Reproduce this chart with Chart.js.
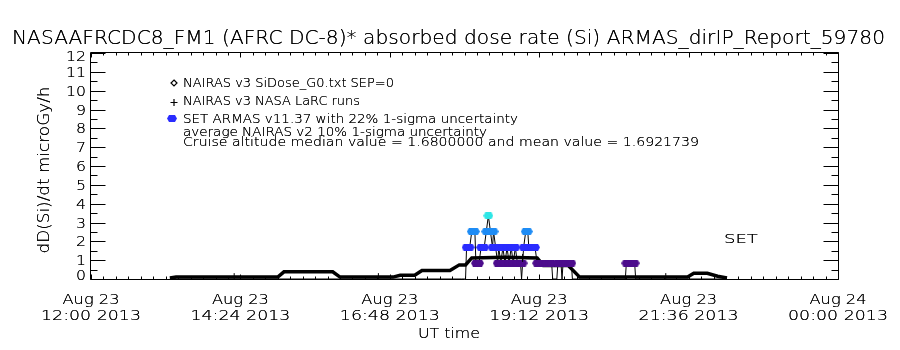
<!DOCTYPE html>
<html><head><meta charset="utf-8">
<script src="https://cdn.jsdelivr.net/npm/chart.js@4.4.1/dist/chart.umd.min.js"></script>
<style>html,body{margin:0;padding:0;background:#fff;overflow:hidden}#c{display:block}</style>
</head><body><canvas id="c" width="900" height="350"></canvas>
<script>
// ---------------- data ----------------
const titleText = 'NASAAFRCDC8_FM1 (AFRC DC-8)* absorbed dose rate (Si) ARMAS_dirIP_Report_59780';
const yAxisTitle = 'dD(Si)/dt microGy/h';
const xAxisTitle = 'UT time';
const xTickDates = ['Aug 23', 'Aug 23', 'Aug 23', 'Aug 23', 'Aug 23', 'Aug 24'];
const xTickTimes = ['12:00 2013', '14:24 2013', '16:48 2013', '19:12 2013', '21:36 2013', '00:00 2013'];
const xTickHours = [12, 14.4, 16.8, 19.2, 21.6, 24];
const yTickValues = [0, 1, 2, 3, 4, 5, 6, 7, 8, 9, 10, 11, 12];
const legendLabels = ['NAIRAS v3 SiDose_G0.txt SEP=0', 'NAIRAS v3 NASA LaRC runs', 'SET ARMAS v11.37 with 22% 1-sigma uncertainty'];
const noteLines = ['average NAIRAS v2 10% 1-sigma uncertainty', 'Cruise altitude median value = 1.6800000 and mean value = 1.6921739'];
const setLabel = 'SET';

// NAIRAS v3 SiDose_G0 (thick black curve)
const nairasTime = ['13:16', '13:22', '15:00', '15:06', '15:53', '16:00', '16:51', '16:58', '17:12', '17:19', '17:46', '17:55', '18:01', '18:07', '18:39', '19:10', '19:16', '19:40', '19:51', '21:35', '21:41', '21:54', '22:04', '22:13'];
const nairasDose = [0.05, 0.1, 0.1, 0.38, 0.38, 0.1, 0.1, 0.2, 0.2, 0.45, 0.45, 0.75, 0.75, 1.12, 1.15, 1.12, 0.72, 0.72, 0.1, 0.1, 0.3, 0.3, 0.15, 0.05];

// NAIRAS v3 NASA LaRC runs
const larcTime = ['14:18', '16:37', '18:56', '21:14'];
const larcDose = [0.1, 0.1, 1.12, 0.1];

// SET ARMAS v11.37
const armasTime = ['13:16', '17:57', '18:01', '18:02', '18:05', '18:07', '18:10', '18:11', '18:14', '18:16', '18:19', '18:21', '18:23', '18:25', '18:27', '18:28', '18:30', '18:32', '18:33', '18:35', '18:37', '18:39', '18:41', '18:43', '18:45', '18:47', '18:49', '18:51', '18:54', '18:55', '18:56', '18:57', '18:59', '19:01', '19:02', '19:05', '19:08', '19:10', '19:13', '19:16', '19:19', '19:22', '19:24', '19:25', '19:29', '19:30', '19:33', '19:34', '19:35', '19:38', '19:41', '19:43', '19:44', '20:35', '20:36', '20:39', '20:42', '20:44', '20:45', '22:13'];
const armasDose = [0, 0, 0, 1.68, 1.68, 2.52, 2.52, 0.84, 0.84, 1.68, 1.68, 2.52, 3.36, 2.52, 1.68, 2.52, 1.68, 0.84, 1.68, 0.84, 1.68, 0.84, 1.68, 0.84, 1.68, 0.84, 1.68, 0.84, 0.84, 0, 0.84, 1.68, 2.52, 2.52, 1.68, 1.68, 1.68, 0.84, 0.84, 0.84, 0.84, 0.84, 0.84, 0, 0, 0.84, 0.84, 0, 0.84, 0.84, 0.84, 0.84, 0, 0, 0.84, 0.84, 0.84, 0.84, 0, 0];

// ---------------- helpers / styles ----------------
const toHours = s => { const [h, m] = s.split(':').map(Number); return h + m / 60; };
const pts = (t, v) => t.map((s, i) => ({ x: toHours(s), y: v[i] }));
const FONT = '"DejaVu Sans", "Liberation Sans", sans-serif';
const WEIGHT = '200';

function levelColor(v) {
  if (v >= 3) return '#2ee6e6';
  if (v >= 2.2) return '#1e8cf5';
  if (v >= 1.3) return '#2a2cff';
  if (v >= 0.5) return '#4c0c8c';
  return null;
}
const markerCache = {};
function ellipseMarker(color) {
  if (markerCache[color]) return markerCache[color];
  const c = document.createElement('canvas');
  c.width = 10; c.height = 7;
  const g = c.getContext('2d');
  g.fillStyle = color;
  g.beginPath();
  g.moveTo(2, 0); g.lineTo(8, 0); g.lineTo(10, 3.5); g.lineTo(8, 7); g.lineTo(2, 7); g.lineTo(0, 3.5); g.closePath();
  g.fill();
  markerCache[color] = c;
  return c;
}

function drawStretched(ctx, str, x, y, size, width, align) {
  ctx.save();
  ctx.font = WEIGHT + ' ' + size + 'px ' + FONT;
  const w = ctx.measureText(str).width;
  const sx = width ? width / w : 1;
  const realW = w * sx;
  let x0 = x;
  if (align === 'center') x0 = x - realW / 2;
  else if (align === 'right') x0 = x - realW;
  ctx.translate(x0, y);
  ctx.scale(sx, 1);
  ctx.textAlign = 'left';
  ctx.textBaseline = 'alphabetic';
  ctx.fillStyle = '#000';
  ctx.fillText(str, 0, 0);
  ctx.fillText(str, 0, 0);
  ctx.restore();
}

const decor = {
  id: 'decor',
  afterDraw(chart) {
    const ctx = chart.ctx;
    const a = chart.chartArea;
    const xs = chart.scales.x, ys = chart.scales.y;
    ctx.save();
    ctx.strokeStyle = '#000';
    ctx.lineWidth = 1;
    const L = a.left - 0.5, R = a.right + 0.5, T = a.top - 0.5, B = a.bottom + 0.5;
    ctx.beginPath();
    ctx.rect(L, T, R - L, B - T);
    ctx.stroke();
    ctx.beginPath();
    for (let v = ys.min; v <= ys.max; v += 0.5) {
      const y = Math.round(ys.getPixelForValue(v)) + 0.5;
      const len = Number.isInteger(v) ? 15 : 7;
      ctx.moveTo(L, y); ctx.lineTo(L + len, y);
      ctx.moveTo(R, y); ctx.lineTo(R - len, y);
    }
    for (let m = 0; m <= 720; m += 12) {
      const x = Math.round(xs.getPixelForValue(12 + m / 60)) + 0.5;
      const len = (m % 144 === 0) ? 5 : 3;
      ctx.moveTo(x, B); ctx.lineTo(x, B - len);
      ctx.moveTo(x, T); ctx.lineTo(x, T + len);
    }
    ctx.stroke();
    ctx.restore();

    drawStretched(ctx, titleText, 448.5, 44, 20, 873, 'center');
    yTickValues.forEach(v => {
      let y = ys.getPixelForValue(v) + 5;
      if (v === 0) y -= 4;
      if (v === 12) y += 3;
      drawStretched(ctx, String(v), 86, y, 14, String(v).length * 10, 'right');
    });
    xTickHours.forEach((h, i) => {
      const x = xs.getPixelForValue(h);
      drawStretched(ctx, xTickDates[i], x, 304, 14, 57, 'center');
      drawStretched(ctx, xTickTimes[i], x, 320, 14, 100, 'center');
    });
    drawStretched(ctx, xAxisTitle, 449, 338, 14, 62, 'center');
    ctx.save();
    ctx.translate(49, 170);
    ctx.rotate(-Math.PI / 2);
    drawStretched(ctx, yAxisTitle, 0, 0, 15, 167, 'center');
    ctx.restore();

    const legW = [211, 177, 335];
    const legY = [87, 105, 123];
    legendLabels.forEach((s, i) => drawStretched(ctx, s, 183, legY[i], 12, legW[i], 'left'));
    ctx.save();
    ctx.strokeStyle = '#000'; ctx.lineWidth = 1.2;
    ctx.beginPath();
    ctx.moveTo(174, 80); ctx.lineTo(177, 83); ctx.lineTo(174, 86); ctx.lineTo(171, 83); ctx.closePath(); ctx.stroke();
    ctx.beginPath();
    ctx.moveTo(170.5, 102.5); ctx.lineTo(177.5, 102.5); ctx.moveTo(174, 99); ctx.lineTo(174, 106); ctx.stroke();
    ctx.restore();
    ctx.drawImage(ellipseMarker(levelColor(1.68)), 167, 115);
    drawStretched(ctx, noteLines[0], 183, 136, 12, 304, 'left');
    drawStretched(ctx, noteLines[1], 183, 146, 12, 516, 'left');
    drawStretched(ctx, setLabel, xs.getPixelForValue(22.44), ys.getPixelForValue(1.9), 12, 34, 'center');
  }
};

new Chart(document.getElementById('c'), {
  type: 'scatter',
  data: {
    datasets: [
      {
        label: legendLabels[2],
        data: pts(armasTime, armasDose),
        showLine: true,
        borderColor: '#000',
        borderWidth: 1,
        pointStyle: c => { const col = levelColor(c.raw ? c.raw.y : 0); return col ? ellipseMarker(col) : false; },
        pointRadius: c => levelColor(c.raw ? c.raw.y : 0) ? 4 : 0,
        order: 1,
        clip: false
      },
      {
        label: legendLabels[0],
        data: pts(nairasTime, nairasDose),
        showLine: true,
        borderColor: '#000',
        borderWidth: 3.5,
        pointRadius: 0,
        order: 2
      },
      {
        label: legendLabels[1],
        data: pts(larcTime, larcDose),
        showLine: false,
        pointStyle: 'cross',
        pointRadius: 4,
        borderColor: '#000',
        backgroundColor: '#000',
        borderWidth: 1,
        order: 0
      }
    ]
  },
  options: {
    responsive: false,
    animation: false,
    devicePixelRatio: 1,
    layout: { padding: { left: 91, right: 62, top: 53, bottom: 71 } },
    plugins: { legend: { display: false }, tooltip: { enabled: false }, title: { display: false } },
    scales: {
      x: { type: 'linear', min: 12, max: 24, display: false },
      y: { type: 'linear', min: 0, max: 12, display: false }
    }
  },
  plugins: [decor]
});
</script>
</body></html>
